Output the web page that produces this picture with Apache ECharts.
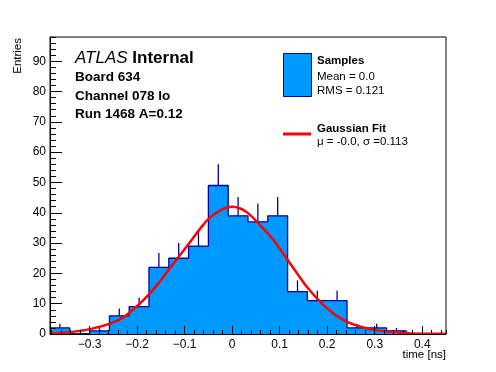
<!DOCTYPE html>
<html><head><meta charset="utf-8">
<script src="https://cdn.jsdelivr.net/npm/echarts@6/dist/echarts.min.js"></script>
<style>html,body{margin:0;padding:0;background:#fff}#c{width:496px;height:372px}</style>
</head><body><div id="c"></div>
<script>
// ---- data ----
const binEdges = [-0.3833,-0.3417,-0.3000,-0.2583,-0.2167,-0.1750,-0.1333,-0.0917,-0.0500,-0.0083,0.0333,0.0750,0.1167,0.1583,0.2000,0.2417,0.2833,0.3250,0.3667,0.4083,0.4500];
const binCounts = [2,0,1,6,9,22,25,29,49,39,37,39,14,11,11,2,2,1,0,0];
const binErrors = [1.4,0,1,2.4,3,4.7,5,5.4,7,6.2,6.1,6.2,3.7,3.3,3.3,1.4,1.4,1,0,0];
const fitX = [-0.383,-0.341,-0.299,-0.257,-0.229,-0.198,-0.173,-0.152,-0.124,-0.096,-0.068,-0.047,-0.019,-0.001,0.016,0.034,0.059,0.087,0.115,0.139,0.160,0.185,0.213,0.241,0.270,0.305,0.361,0.450];
const fitY = [0.15,0.6,1.6,3.4,5.5,9.5,13.4,17.4,23.2,28.8,34.6,38.4,41.3,42,41.5,39.8,35.9,31,24.8,19.5,15,10.7,6.8,4.1,2.4,1.2,0.35,0.05];
const xRange = [-0.3833, 0.45];
const yRange = [0, 98];
const titleLines = ['Board 634','Channel 078 lo','Run 1468 A=0.12'];
const legendSamples = ['Samples','Mean = 0.0','RMS = 0.121'];
const legendFit = ['Gaussian Fit','\u03bc = -0.0, \u03c3 =0.113'];

const FONT = "'Liberation Sans', Arial, Helvetica, sans-serif";
const FILL = '#0099ff', EDGE = '#000099';

const histData = binEdges.map((e,i) => [e, binCounts[Math.min(i, binCounts.length-1)]]);
const errData = [];
binCounts.forEach((c,i) => { if (binErrors[i] > 0) errData.push([(binEdges[i]+binEdges[i+1])/2, c, binErrors[i]]); });
const fitData = fitX.map((x,i) => [x, fitY[i]]);

function fmtX(v){ if (Math.abs(v) < 1e-9) return '0'; return (v<0?'\u2212':'') + Math.abs(v).toFixed(1); }

const chart = echarts.init(document.getElementById('c'), null, {renderer:'canvas'});
const txt = (t, x, y, size, weight, extra) => Object.assign({type:'text', x:x, y:y, z:100,
  style:{text:t, fontSize:size, fontWeight:weight||'normal', fontFamily:FONT, fill:'#000', align:'left', verticalAlign:'middle', textAlign:'left', textVerticalAlign:'middle'}}, extra||{});

chart.setOption({
  animation:false,
  backgroundColor:'#fff',
  grid:{left:50, right:50, top:37, bottom:38, show:true, borderColor:'#000', borderWidth:1, backgroundColor:'transparent', outerBoundsMode:'none', containLabel:false},
  xAxis:[
    {type:'value', min:xRange[0], max:xRange[1], position:'bottom', splitNumber:8, minInterval:0.1, maxInterval:0.1, z:10,
     axisLine:{show:true, onZero:false, lineStyle:{color:'#000', width:1}},
     axisTick:{show:true, inside:true, length:8, lineStyle:{color:'#000', width:1}},
     axisLabel:{showMinLabel:false, showMaxLabel:false, color:'#000', fontSize:12, fontFamily:FONT, margin:5, formatter:fmtX},
     splitLine:{show:false}},
    {type:'value', min:xRange[0], max:xRange[1], position:'bottom', splitNumber:40, minInterval:0.02, maxInterval:0.02, z:10,
     axisLine:{show:false, onZero:false},
     axisTick:{show:true, inside:true, length:4, lineStyle:{color:'#000', width:1}},
     axisLabel:{show:false}, splitLine:{show:false}}
  ],
  yAxis:[
    {type:'value', min:yRange[0], max:yRange[1], interval:10, position:'left', z:10,
     axisLine:{show:true, onZero:false, lineStyle:{color:'#000', width:1}},
     axisTick:{show:true, inside:true, length:12, lineStyle:{color:'#000', width:1}},
     axisLabel:{showMaxLabel:false, color:'#000', fontSize:12, fontFamily:FONT, margin:4},
     splitLine:{show:false}},
    {type:'value', min:yRange[0], max:yRange[1], interval:2, position:'left', z:10,
     axisLine:{show:false, onZero:false},
     axisTick:{show:true, inside:true, length:6, lineStyle:{color:'#000', width:1}},
     axisLabel:{show:false}, splitLine:{show:false}}
  ],
  series:[
    {type:'line', xAxisIndex:0, yAxisIndex:0, data:histData, step:'end', symbol:'none', z:2,
     lineStyle:{color:EDGE, width:1.3}, areaStyle:{color:FILL, opacity:1}},
    {type:'custom', xAxisIndex:0, yAxisIndex:0, data:errData, z:3,
     renderItem:(params, api) => {
       const p0 = api.coord([api.value(0), api.value(1)]);
       const p1 = api.coord([api.value(0), api.value(1)+api.value(2)]);
       return {type:'line', shape:{x1:p0[0], y1:p0[1], x2:p1[0], y2:p1[1]}, style:{stroke:EDGE, lineWidth:1.3}};
     }},
    {type:'line', xAxisIndex:0, yAxisIndex:0, data:fitData, smooth:0.4, symbol:'none', z:4,
     lineStyle:{color:'#ff0000', width:2.5}}
  ],
  graphic:[
    {type:'text', x:75, y:58, z:100, style:{text:'{a|ATLAS} {b|Internal}', fontFamily:FONT, fontSize:17, fill:'#000', verticalAlign:'middle', textVerticalAlign:'middle',
      rich:{a:{fontStyle:'italic', fontSize:17, fontFamily:FONT}, b:{fontWeight:'bold', fontSize:17, fontFamily:FONT}}}},
    txt(titleLines[0], 75, 77, 13.5, 'bold'),
    txt(titleLines[1], 75, 96, 13.5, 'bold'),
    txt(titleLines[2], 75, 114, 13.5, 'bold'),
    {type:'rect', z:100, shape:{x:283.5, y:53.5, width:28, height:43}, style:{fill:FILL, stroke:EDGE, lineWidth:1}},
    txt(legendSamples[0], 317, 61, 11.5, 'bold'),
    txt(legendSamples[1], 317, 77, 11.5),
    txt(legendSamples[2], 317, 91, 11.5),
    {type:'line', z:100, shape:{x1:283, y1:134, x2:311, y2:134}, style:{stroke:'#ff0000', lineWidth:3}},
    txt(legendFit[0], 317, 129, 11.5, 'bold'),
    txt(legendFit[1], 317, 142, 11.5),
    {type:'text', x:18, y:38, rotation:Math.PI/2, z:100, style:{text:'Entries', fontSize:11.5, fontFamily:FONT, fill:'#000', align:'right', verticalAlign:'middle', textAlign:'right', textVerticalAlign:'middle'}},
    {type:'text', x:446, y:355, z:100, style:{text:'time [ns]', fontSize:11.5, fontFamily:FONT, fill:'#000', align:'right', verticalAlign:'middle', textAlign:'right', textVerticalAlign:'middle'}}
  ]
});
</script>
</body></html>
